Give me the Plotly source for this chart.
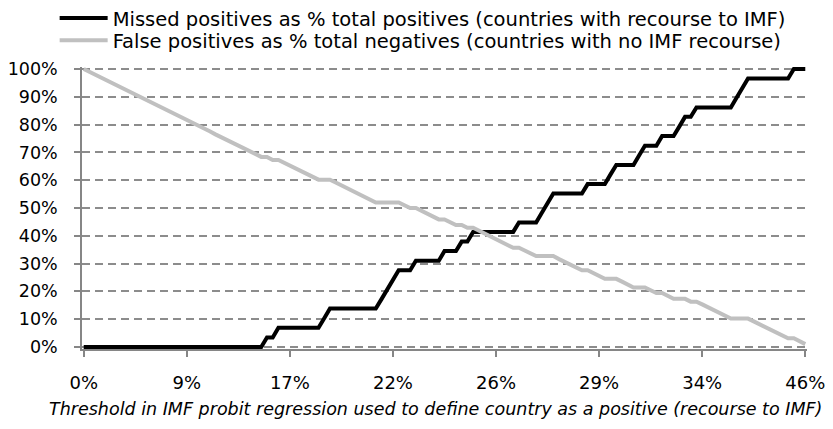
import plotly.graph_objects as go

# Missed positives as % of total positives (black)
missed = [
    0, 0, 0, 0, 0, 0, 0, 0, 0, 0, 0, 0, 0, 0, 0, 0,
    0, 0, 0, 0, 0, 0, 0, 0, 0, 0, 0, 0, 0, 0, 0, 0,
    3.4, 3.4,
    6.9, 6.9, 6.9, 6.9, 6.9, 6.9, 6.9, 6.9,
    10.3,
    13.8, 13.8, 13.8, 13.8, 13.8, 13.8, 13.8, 13.8, 13.8,
    17.2, 20.7, 24.1,
    27.6, 27.6, 27.6,
    31.0, 31.0, 31.0, 31.0, 31.0,
    34.5, 34.5, 34.5,
    37.9, 37.9,
    41.4, 41.4, 41.4, 41.4, 41.4, 41.4, 41.4, 41.4,
    44.8, 44.8, 44.8, 44.8,
    48.3, 51.7,
    55.2, 55.2, 55.2, 55.2, 55.2, 55.2,
    58.6, 58.6, 58.6, 58.6,
    62.1,
    65.5, 65.5, 65.5, 65.5,
    69.0,
    72.4, 72.4, 72.4,
    75.9, 75.9, 75.9,
    79.3,
    82.8, 82.8,
    86.2, 86.2, 86.2, 86.2, 86.2, 86.2, 86.2,
    89.7, 93.1,
    96.6, 96.6, 96.6, 96.6, 96.6, 96.6, 96.6, 96.6,
    100, 100, 100,
]

# False positives as % of total negatives (grey)
false_pos = [
    100.0, 99.0, 98.0, 96.9, 95.9, 94.9, 93.9, 92.9, 91.8, 90.8, 89.8, 88.8,
    87.8, 86.7, 85.7, 84.7, 83.7, 82.7, 81.6, 80.6, 79.6, 78.6, 77.6, 76.5,
    75.5, 74.5, 73.5, 72.4, 71.4, 70.4, 69.4, 68.4,
    68.4,
    67.3, 67.3,
    66.3, 65.3, 64.3, 63.3, 62.2, 61.2, 60.2,
    60.2, 60.2,
    59.2, 58.2, 57.1, 56.1, 55.1, 54.1, 53.1, 52.0,
    52.0, 52.0, 52.0, 52.0,
    51.0, 50.0,
    50.0, 49.0, 48.0, 46.9, 45.9,
    45.9, 44.9, 43.9,
    43.9, 42.9,
    42.9, 41.8, 40.8, 39.8, 38.8, 37.8, 36.7, 35.7,
    35.7, 34.7, 33.7, 32.7,
    32.7, 32.7, 32.7,
    31.6, 30.6, 29.6, 28.6, 27.6,
    27.6, 26.5, 25.5, 24.5,
    24.5, 24.5,
    23.5, 22.4, 21.4,
    21.4, 21.4,
    20.4, 19.4,
    19.4, 18.4, 17.3,
    17.3, 17.3,
    16.3,
    16.3, 15.3, 14.3, 13.3, 12.2, 11.2, 10.2,
    10.2, 10.2, 10.2,
    9.2, 8.2, 7.1, 6.1, 5.1, 4.1, 3.1,
    3.1, 2.0, 1.0,
]

tick_labels = ["0%", "9%", "17%", "22%", "26%", "29%", "34%", "46%"]
label_every = 18
x_title = "Threshold in IMF probit regression used to define country as a positive (recourse to IMF)"

x = list(range(len(missed)))
tick_pos = list(range(0, len(missed), label_every))

FONT = "DejaVu Sans, Open Sans, sans-serif"

fig = go.Figure()
fig.add_trace(go.Scatter(
    x=x, y=missed, mode="lines",
    name="Missed positives as % total positives (countries with recourse to IMF)",
    line=dict(color="#000000", width=4),
    legend="legend",
))
fig.add_trace(go.Scatter(
    x=x, y=false_pos, mode="lines",
    name="False positives as % total negatives (countries with no IMF recourse)",
    line=dict(color="#c0c0c0", width=4),
    legend="legend2",
))

legend_common = dict(
    xref="container", yref="paper", x=0.056,
    xanchor="left", yanchor="top", orientation="v",
    font=dict(size=19.5, family=FONT),
    bgcolor="rgba(0,0,0,0)", itemwidth=48,
)

fig.update_layout(
    width=833, height=429,
    margin=dict(l=74, r=34, t=59, b=88, autoexpand=False),
    paper_bgcolor="white", plot_bgcolor="white",
    font=dict(family=FONT, size=16, color="#000000"),
    showlegend=True,
    legend=dict(legend_common, y=1.2415),
    legend2=dict(legend_common, y=1.1626),
    xaxis=dict(
        range=[-0.3, 126.3],
        tickvals=tick_pos, ticktext=tick_labels,
        showgrid=False, zeroline=False,
        showline=True, linecolor="#868686", linewidth=1.5,
        ticks="outside", ticklen=6, tickcolor="#868686", tickwidth=1.5,
        ticklabelstandoff=11,
        tickfont=dict(size=18),
        automargin=False,
    ),
    yaxis=dict(
        range=[-0.75, 100.75],
        tickvals=[0, 10, 20, 30, 40, 50, 60, 70, 80, 90, 100],
        ticktext=["0%", "10%", "20%", "30%", "40%", "50%", "60%", "70%", "80%", "90%", "100%"],
        showgrid=True, gridcolor="#8c8c8c", gridwidth=1.5, griddash="8px,5px",
        zeroline=False,
        showline=True, linecolor="#868686", linewidth=1.5,
        ticks="outside", ticklen=6, tickcolor="#868686", tickwidth=1.5,
        ticklabelstandoff=13,
        tickfont=dict(size=17.5),
        automargin=False,
    ),
    annotations=[dict(
        text="<i>" + x_title + "</i>",
        xref="paper", yref="paper", x=0.4869, y=-0.2145,
        xanchor="center", yanchor="middle", showarrow=False,
        font=dict(size=17.5, family=FONT),
    )],
)

fig.write_html("out.html")
